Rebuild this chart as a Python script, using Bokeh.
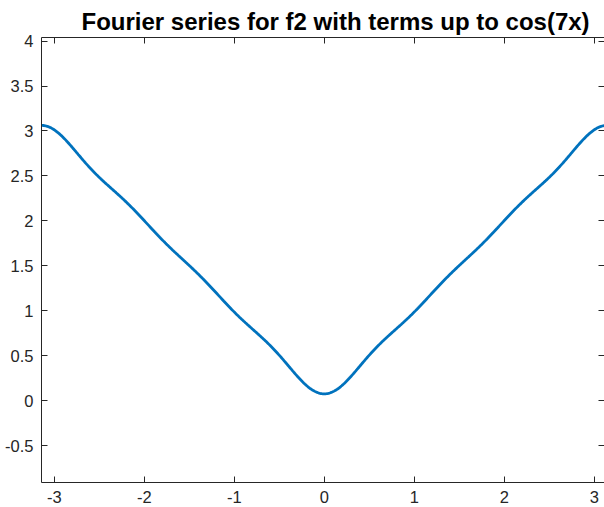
import numpy as np
from bokeh.plotting import figure
from bokeh.models import LinearAxis, FixedTicker, Range1d
from bokeh.embed import file_html
from bokeh.resources import INLINE

# Fourier series of f2: constant term and cosine coefficients
constant_term = 1.5708
harmonics = [1, 3, 5, 7]
cos_coeffs = [-1.2732, -0.1415, -0.0509, -0.0260]

x_ticks = [-3, -2, -1, 0, 1, 2, 3]
x_tick_labels = ["-3", "-2", "-1", "0", "1", "2", "3"]
y_ticks = [-0.5, 0, 0.5, 1, 1.5, 2, 2.5, 3, 3.5, 4]
y_tick_labels = ["-0.5", "0", "0.5", "1", "1.5", "2", "2.5", "3", "3.5", "4"]

title_text = "Fourier series for f2 with terms up to cos(7x)"

xs = np.linspace(-np.pi, np.pi, 600)
ys = np.full_like(xs, constant_term)
for k, a in zip(harmonics, cos_coeffs):
    ys = ys + a * np.cos(k * xs)

AX = "#262626"
FONT = "Liberation Sans"

p = figure(width=604, height=507, output_backend="svg", toolbar_location=None,
           x_range=Range1d(-np.pi, -np.pi + 563 / 90.0),
           y_range=Range1d(-0.906, 4.039),
           x_axis_location=None, y_axis_location=None,
           min_border_left=41, min_border_right=0, min_border_top=37, min_border_bottom=25)
p.outline_line_color = None
p.xgrid.visible = False
p.ygrid.visible = False
p.background_fill_color = "white"
p.border_fill_color = "white"

p.line(xs, ys, line_color="#0072BD", line_width=2.8)

def style(ax, ticks, labels, show_labels, show_line=True):
    ax.ticker = FixedTicker(ticks=ticks)
    ax.major_label_overrides = {t: l for t, l in zip(ticks, labels)}
    ax.major_tick_in = 6
    ax.major_tick_out = 0
    ax.minor_tick_in = 0
    ax.minor_tick_out = 0
    ax.axis_line_color = AX if show_line else None
    ax.major_tick_line_color = AX
    ax.axis_line_width = 1
    ax.major_tick_line_width = 1
    if show_labels:
        ax.major_label_text_font = FONT
        ax.major_label_text_font_size = "16.5px"
        ax.major_label_text_color = AX
        ax.major_label_standoff = 8
    else:
        ax.major_label_text_font_size = "0px"
        ax.major_label_text_color = None
        ax.major_label_standoff = 0

bottom = LinearAxis()
style(bottom, x_ticks, x_tick_labels, True)
p.add_layout(bottom, "below")
left = LinearAxis()
style(left, y_ticks, y_tick_labels, True)
p.add_layout(left, "left")
top = LinearAxis()
style(top, x_ticks, x_tick_labels, False)
p.add_layout(top, "above")
right = LinearAxis()
style(right, y_ticks, y_tick_labels, False, show_line=False)
p.add_layout(right, "right")

p.title.text = title_text
p.title.align = "left"
p.title.offset = 40
p.title.text_font = FONT
p.title.text_font_size = "24px"
p.title.text_font_style = "bold"
p.title.text_color = "black"
p.title.standoff = 6

open("out.html", "w").write(file_html(p, INLINE))
